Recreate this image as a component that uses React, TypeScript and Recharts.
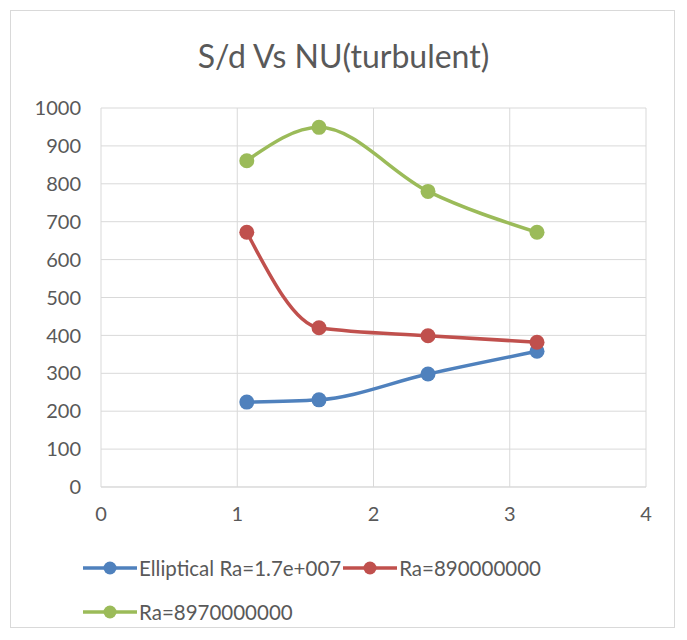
import { LineChart, Line, XAxis, YAxis, CartesianGrid } from 'recharts'

const sdValues = [1.07, 1.6, 2.4, 3.2]
const ellipticalNu = [224, 230, 298, 358]
const ra890Nu = [672, 420, 399, 382]
const ra8970Nu = [861, 949, 780, 672]

const xTicks = [0, 1, 2, 3, 4]
const yTicks = [0, 100, 200, 300, 400, 500, 600, 700, 800, 900, 1000]

const series = [
  { key: 'elliptical', name: 'Elliptical Ra=1.7e+007', color: '#4F81BD' },
  { key: 'ra890', name: 'Ra=890000000', color: '#C0504D' },
  { key: 'ra8970', name: 'Ra=8970000000', color: '#9BBB59' }
]

const data = sdValues.map((x, i) => ({
  x,
  elliptical: ellipticalNu[i],
  ra890: ra890Nu[i],
  ra8970: ra8970Nu[i]
}))

const FONT = 'Lato, "Open Sans", sans-serif'
const TEXT = '#595959'

function LegendItem({ name, color }: { name: string; color: string }) {
  return (
    <span style={{ display: 'inline-flex', alignItems: 'center', marginRight: 2 }}>
      <svg width={54} height={14} style={{ marginRight: 2 }}>
        <line x1={0} y1={7} x2={54} y2={7} stroke={color} strokeWidth={3.5} />
        <circle cx={27} cy={7} r={6.5} fill={color} />
      </svg>
      <span>{name}</span>
    </span>
  )
}

export default function App() {
  return (
    <div style={{ position: 'absolute', left: 0, top: 0, width: 687, height: 640, background: '#fff', fontFamily: FONT }}>
      <div style={{
        position: 'absolute', left: 10, top: 10, width: 665, height: 618,
        border: '1px solid #D9D9D9', boxSizing: 'border-box'
      }} />
      <div style={{
        position: 'absolute', left: 0, top: 36, width: 687, textAlign: 'center',
        fontSize: 32, color: TEXT
      }}>
        S/d Vs NU(turbulent)
      </div>
      <LineChart
        width={687}
        height={640}
        data={data}
        margin={{ top: 108, right: 41, bottom: 100, left: 0 }}
        style={{ position: 'absolute', left: 0, top: 0 }}
      >
        <CartesianGrid stroke="#D9D9D9" strokeWidth={1} />
        <XAxis
          dataKey="x"
          type="number"
          domain={[0, 4]}
          ticks={xTicks}
          tickSize={0}
          tickMargin={20}
          axisLine={{ stroke: '#D9D9D9' }}
          tick={{ fill: TEXT, fontSize: 20, fontFamily: FONT }}
          height={53}
        />
        <YAxis
          type="number"
          domain={[0, 1000]}
          ticks={yTicks}
          tickSize={0}
          tickMargin={20}
          axisLine={false}
          width={101}
          tick={{ fill: TEXT, fontSize: 20, fontFamily: FONT }}
        />
        {series.map(s => (
          <Line
            key={s.key}
            dataKey={s.key}
            name={s.name}
            type="monotone"
            stroke={s.color}
            strokeWidth={3.5}
            dot={{ r: 7.5, fill: s.color, stroke: s.color, strokeWidth: 0 }}
            activeDot={false}
            isAnimationActive={false}
          />
        ))}
      </LineChart>
      <div style={{ position: 'absolute', left: 83, top: 554, fontSize: 20.5, color: TEXT, lineHeight: '28px' }}>
        <div style={{ display: 'flex' }}>
          <LegendItem name={series[0].name} color={series[0].color} />
          <LegendItem name={series[1].name} color={series[1].color} />
        </div>
        <div style={{ display: 'flex', marginTop: 16 }}>
          <LegendItem name={series[2].name} color={series[2].color} />
        </div>
      </div>
    </div>
  )
}
